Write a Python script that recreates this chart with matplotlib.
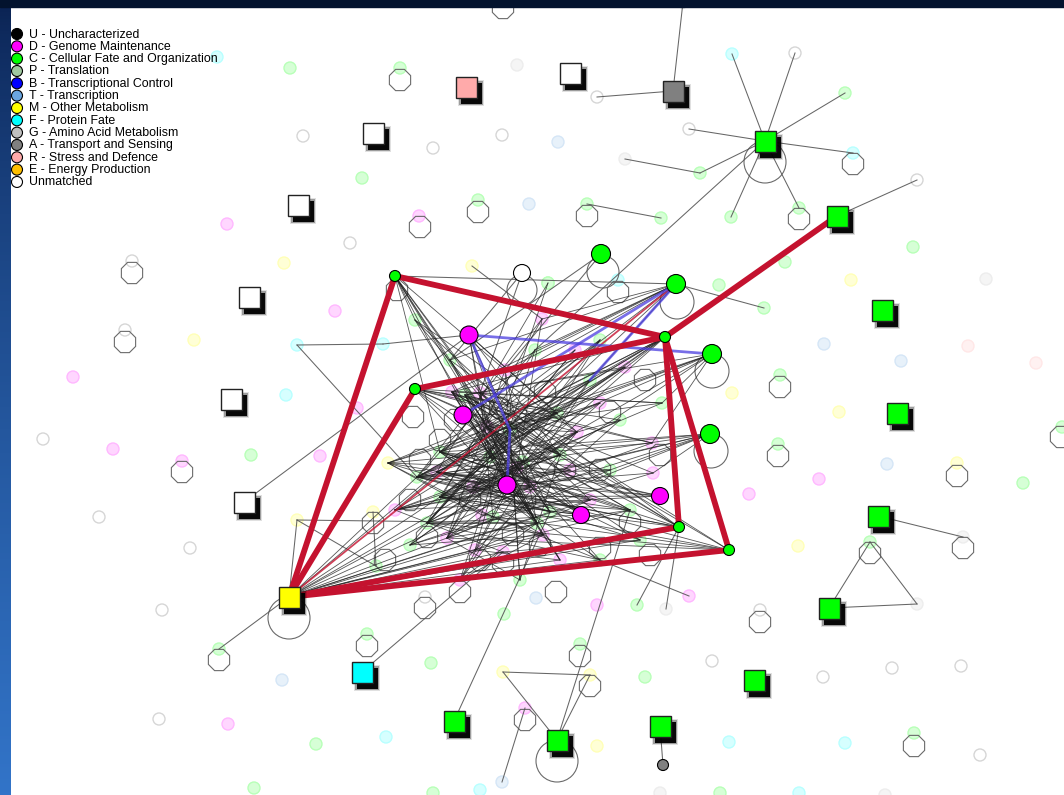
import numpy as np
import matplotlib
matplotlib.use("Agg")
import matplotlib.pyplot as plt
from matplotlib.patches import Circle, Rectangle, RegularPolygon
from matplotlib.colors import to_rgb

plt.rcParams['font.family'] = ['Liberation Sans', 'DejaVu Sans']

# functional categories
cat_codes = ["U", "D", "C", "P", "B", "T", "M", "F", "G", "A", "R", "E", "N"]
cat_labels = ["U - Uncharacterized", "D - Genome Maintenance", "C - Cellular Fate and Organization",
              "P - Translation", "B - Transcriptional Control", "T - Transcription",
              "M - Other Metabolism", "F - Protein Fate", "G - Amino Acid Metabolism",
              "A - Transport and Sensing", "R - Stress and Defence", "E - Energy Production",
              "Unmatched"]
cat_hex = ["#000000", "#ff00ff", "#00ff00", "#a0c8a0", "#0000ff", "#6aa5e0",
           "#ffff00", "#00ffff", "#c0c0c0", "#808080", "#ffaaaa", "#ffc000", "#ffffff"]
cat_color = dict(zip(cat_codes, cat_hex))

# square (matched) nodes
sq_ids = ["sR", "sW1", "sA", "sW2", "sW3", "sW4", "sW5", "sW6", "sH", "sC1",
          "sC2", "sC3", "sC4", "sC5", "sC6", "sM", "sF", "sC7", "sC8", "sC9"]
sq_x = [466, 570, 673, 373, 298, 249, 231, 244, 765, 837, 882, 897, 878, 829, 754, 289, 362, 454, 557, 660]
sq_y = [87, 73, 91, 133, 205, 297, 399, 502, 141, 216, 310, 413, 516, 608, 680, 597, 672, 721, 740, 726]
sq_cat = ["R", "N", "A", "N", "N", "N", "N", "N", "C", "C", "C", "C", "C", "C", "C", "M", "F", "C", "C", "C"]

# large circle nodes
big_ids = ["gA", "gB", "gC", "gD", "gs1", "gs2", "gs3", "gs4", "gs5",
           "mA", "mB", "mC", "mD", "mE", "wU", "aS"]
big_x = [601, 676, 712, 710, 395, 665, 415, 679, 729, 469, 463, 507, 581, 660, 522, 663]
big_y = [254, 284, 354, 434, 276, 337, 389, 527, 550, 335, 415, 485, 515, 496, 273, 765]
big_r = [9.5, 9.5, 9.5, 9.5, 5.5, 5.5, 5.5, 5.5, 5.5, 9, 9, 9, 8.5, 8.5, 8.5, 5.5]
big_cat = ["C", "C", "C", "C", "C", "C", "C", "C", "C", "D", "D", "D", "D", "D", "N", "A"]

# faint nodes in the dense core
core_x = [452, 465, 480, 487, 510, 557, 577, 440, 437, 417, 490, 523, 517, 530, 560, 550, 440, 427,
          473, 482, 493, 447, 475, 503, 537, 543, 388, 600, 625, 662, 652, 653, 542, 548, 415, 600,
          590, 620, 610, 590, 630, 640, 560, 600, 520, 460, 410, 395, 570, 505, 535, 575, 450]
core_y = [392, 395, 393, 427, 430, 413, 432, 452, 472, 477, 457, 462, 468, 487, 455, 512, 497, 523,
          487, 515, 517, 538, 550, 552, 523, 535, 463, 403, 367, 403, 443, 473, 319, 283, 320, 340,
          380, 420, 470, 500, 510, 540, 560, 560, 580, 580, 545, 510, 470, 370, 350, 350, 360]
core_cat = ["D", "C", "D", "D", "C", "C", "D", "C", "D", "C", "C", "C", "D", "D", "C", "C", "C", "C",
            "D", "D", "C", "D", "D", "D", "C", "D", "M", "D", "D", "C", "D", "D", "D", "C", "C", "C",
            "C", "C", "C", "D", "C", "C", "D", "C", "C", "D", "C", "D", "D", "D", "C", "D", "C"]

# faint nodes that carry an edge outside the core
link_ids = ["top", "w97", "h1", "h2", "h3", "h4", "h5", "h6", "h7", "h8", "g159", "w180", "c204",
            "c218", "c308", "g537", "c542", "g604", "m672", "m675", "d708", "t782", "c605", "g609",
            "d596", "c649", "m520", "m512", "c566", "f345", "f344", "m266"]
link_x = [683, 597, 732, 795, 845, 689, 853, 700, 731, 799, 625, 917, 587, 661, 764, 963, 870, 917,
          503, 590, 525, 502, 637, 666, 689, 219, 297, 373, 376, 297, 383, 472]
link_y = [2, 97, 54, 53, 93, 129, 153, 173, 217, 208, 159, 180, 204, 218, 308, 537, 542, 604,
          672, 675, 708, 782, 605, 609, 596, 649, 520, 512, 566, 345, 344, 266]
link_cat = ["N", "N", "F", "N", "C", "N", "F", "C", "C", "C", "G", "N", "C", "C", "C", "G", "C", "G",
            "M", "M", "D", "T", "C", "G", "D", "C", "M", "M", "C", "F", "F", "M"]

# isolated faint nodes
iso_x = [217, 290, 400, 517, 303, 433, 502, 558, 362, 419, 478, 529, 350, 227, 284, 132, 335, 125,
         194, 286, 73, 43, 113, 182, 251, 320, 357, 913, 851, 986, 785, 824, 968, 901, 1036, 780,
         732, 839, 778, 957, 887, 819, 1023, 749, 1062, 798, 823, 892, 961, 845, 914, 980, 799, 885,
         431, 536, 597, 504, 760, 712, 645, 597, 729, 433, 580, 162, 282, 159, 228, 254, 425, 367,
         99, 190, 548, 618, 719, 386, 316, 720, 660, 480]
iso_y = [57, 68, 68, 65, 136, 148, 135, 142, 178, 216, 200, 204, 243, 224, 263, 261, 311, 330,
         340, 395, 377, 439, 449, 461, 455, 456, 408, 247, 280, 279, 262, 344, 346, 361, 363, 375,
         393, 412, 444, 463, 464, 479, 483, 494, 427, 546, 677, 668, 666, 743, 733, 755, 793, 795,
         663, 598, 605, 614, 610, 661, 677, 746, 742, 793, 644, 610, 680, 719, 724, 788, 597, 634,
         517, 548, 283, 280, 285, 737, 744, 793, 793, 790]
iso_cat = ["F", "C", "C", "G", "N", "N", "N", "T", "C", "D", "C", "T", "N", "D", "M", "N", "D", "N",
           "M", "F", "D", "N", "D", "D", "C", "D", "D", "C", "M", "G", "C", "T", "R", "T", "R", "C",
           "M", "M", "C", "M", "T", "D", "C", "D", "C", "M", "N", "N", "N", "F", "C", "N", "F", "G",
           "C", "T", "D", "C", "N", "N", "C", "M", "F", "C", "C", "N", "T", "N", "D", "C", "N", "C",
           "N", "N", "C", "F", "C", "F", "C", "C", "G", "F"]

# octagonal self-loops (centres)
oct_x = [503, 400, 478, 420, 587, 132, 125, 182, 219, 367, 373, 425, 580, 590, 525, 556, 760, 853,
         799, 780, 778, 957, 963, 870, 914, 1061, 397, 618,
         413, 420, 410, 427, 480, 503, 513, 455, 600, 630, 540, 600, 650, 460, 385, 610, 565, 470,
         525, 440, 480, 660, 500, 545, 645]
oct_y = [8, 80, 212, 227, 216, 273, 342, 472, 660, 646, 523, 608, 656, 686, 720, 592, 622, 164,
         219, 387, 456, 476, 548, 553, 746, 437, 290, 292,
         417, 460, 500, 537, 560, 563, 535, 420, 470, 522, 545, 548, 555, 592, 560, 412, 470, 500,
         500, 440, 450, 455, 408, 392, 380]

# round self-loops of the larger nodes
loop_x = [765, 289, 557, 603, 677, 712, 711, 522]
loop_y = [162, 618, 761, 272, 302, 371, 451, 290]
loop_r = [21, 21, 21, 16, 17, 17, 17, 15]

# strong (red) and blue interactions
red_edges = [("sM", "gs1"), ("gs1", "gs2"), ("sM", "gs3"), ("gs3", "gs2"), ("gs2", "sC1"),
             ("gs2", "gs4"), ("gs2", "gs5"), ("sM", "gs4"), ("sM", "gs5")]
red_thin = [("sM", "gB")]
blue_edges = [("mA", "gC"), ("mA", "c4"), ("c4", "mC"), ("mB", "gB"), ("gB", "c36")]

# outer thin edges
outer_edges = [("sA", "top"), ("sA", "w97"), ("sH", "h1"), ("sH", "h2"), ("sH", "h3"), ("sH", "h4"),
               ("sH", "h5"), ("sH", "h6"), ("sH", "h7"), ("sH", "h8"), ("sH", "c50"), ("h6", "g159"),
               ("sC1", "w180"), ("c204", "c218"), ("gB", "c308"), ("sC4", "g537"), ("c542", "sC5"),
               ("c542", "g604"), ("sC5", "g604"), ("sC9", "aS"), ("sC8", "m672"), ("sC8", "m675"),
               ("m672", "m675"), ("sC8", "c40"), ("sC7", "c15"), ("d708", "t782"), ("c605", "gs4"),
               ("g609", "gs4"), ("d596", "c43"), ("sF", "c23"), ("c649", "sM"), ("m520", "c24"),
               ("m520", "c566"), ("m520", "sM"), ("m512", "c566"), ("f345", "f344"), ("f344", "mA"),
               ("f345", "c9"), ("sW6", "mA"), ("m266", "c32"), ("wU", "c2"), ("wU", "c52"),
               ("gA", "c52"), ("gA", "c49"), ("gs1", "gB")]

# edges of the large nodes into the core (core node indices)
hub_links = {
    "gs1": [2, 3, 10, 4, 52, 34, 7, 49, 12],
    "gs3": [4, 11, 13, 14, 24, 5, 6, 29, 37, 30],
    "gs2": [0, 3, 7, 8, 16, 18, 49, 4, 10, 12, 9],
    "gB": [52, 0, 2, 49, 50, 32, 3, 10, 36],
    "gC": [7, 8, 29, 30, 4, 11, 14, 26, 1],
    "gD": [9, 16, 17, 7, 38, 31, 21, 47, 26],
    "gs4": [0, 1, 7, 9, 16, 3, 18, 52],
    "gs5": [1, 2, 8, 16, 21, 17, 19],
    "mA": [3, 10, 12, 6, 14, 5, 15],
    "mB": [5, 14, 11, 24, 13, 40],
    "mC": [0, 1, 2, 7, 9, 27, 36, 6, 35],
    "mD": [8, 9, 16, 17, 3, 10, 12, 34],
    "mE": [7, 8, 9, 16, 10, 47],
    "sM": [9, 8, 16, 17, 21, 22, 23, 24, 25, 15, 42, 43, 40, 41, 39, 11, 13, 45],
}

# edges inside the core
core_edges = [(0, 11), (0, 14), (0, 24), (0, 13), (1, 12), (1, 15), (1, 25), (2, 14), (2, 20), (2, 5),
              (3, 24), (3, 15), (3, 6), (4, 21), (4, 17), (4, 9), (4, 22), (5, 8), (5, 16), (5, 9),
              (6, 17), (6, 18), (6, 21), (7, 11), (7, 24), (7, 40), (8, 13), (8, 25), (8, 39), (9, 12),
              (9, 14), (9, 38), (10, 21), (10, 42), (10, 17), (11, 17), (11, 46), (12, 22), (12, 46),
              (13, 21), (13, 47), (14, 16), (14, 18), (14, 47), (15, 26), (15, 9), (16, 25), (16, 40),
              (17, 24), (17, 43), (18, 40), (18, 41), (19, 26), (19, 39), (20, 43), (20, 26), (21, 40),
              (21, 44), (22, 42), (22, 39), (23, 41), (23, 47), (24, 45), (25, 45), (26, 36), (26, 5),
              (26, 13), (27, 7), (27, 9), (27, 16), (28, 8), (28, 1), (28, 10), (29, 0), (29, 3),
              (29, 16), (30, 1), (30, 10), (30, 17), (31, 0), (31, 18), (31, 46), (32, 9), (32, 12),
              (32, 17), (33, 8), (33, 10), (34, 14), (34, 24), (34, 6), (35, 7), (35, 21), (35, 47),
              (36, 16), (36, 45), (37, 9), (37, 18), (37, 22), (38, 10), (38, 21), (38, 47), (39, 2),
              (39, 7), (40, 3), (40, 12), (41, 11), (41, 13), (42, 0), (42, 3), (43, 12), (43, 7),
              (44, 4), (44, 14), (45, 11), (45, 6), (46, 20), (46, 25), (47, 11), (47, 48), (48, 16),
              (48, 26), (49, 21), (49, 24), (50, 16), (50, 9), (51, 17), (51, 7), (52, 24), (52, 13),
              (52, 15), (49, 44), (50, 45), (51, 46), (35, 17), (36, 9), (28, 47)]


def mix(c, a):
    r = np.array(to_rgb(c))
    return tuple(1 - a * (1 - r))


pos = {}
for i, n in enumerate(sq_ids):
    pos[n] = (sq_x[i], sq_y[i])
for i, n in enumerate(big_ids):
    pos[n] = (big_x[i], big_y[i])
for i in range(len(core_x)):
    pos["c%d" % i] = (core_x[i], core_y[i])
for i, n in enumerate(link_ids):
    pos[n] = (link_x[i], link_y[i])

fig = plt.figure(figsize=(10.64, 7.95), dpi=100)
ax = fig.add_axes([0, 0, 1, 1])
ax.set_xlim(0, 1064)
ax.set_ylim(795, 0)
ax.axis('off')
ax.add_patch(Rectangle((0, 0), 1064, 795, color="white", zorder=0))


def faint(x, y, cat):
    if cat == "N":
        fc, ec = "#ffffff", "#d6d6d6"
    else:
        fc, ec = mix(cat_color[cat], 0.16), mix(cat_color[cat], 0.28)
    ax.add_patch(Circle((x, y), 6, facecolor=fc, edgecolor=ec, lw=1.0, zorder=1))


for x, y, c in zip(iso_x, iso_y, iso_cat):
    faint(x, y, c)
for x, y, c in zip(core_x, core_y, core_cat):
    faint(x, y, c)
for x, y, c in zip(link_x, link_y, link_cat):
    faint(x, y, c)

for x, y in zip(oct_x, oct_y):
    ax.add_patch(RegularPolygon((x, y), 8, radius=11.5, orientation=np.pi / 8,
                                fill=False, ec="#6a6a6a", lw=0.8, zorder=2))
for x, y, r in zip(loop_x, loop_y, loop_r):
    ax.add_patch(Circle((x, y), r, fill=False, ec="#6a6a6a", lw=0.8, zorder=2))


def edge(a, b, **kw):
    (x1, y1), (x2, y2) = pos[a], pos[b]
    ax.plot([x1, x2], [y1, y2], **kw)


for a, b in outer_edges:
    edge(a, b, color="#555555", lw=0.75, alpha=0.9, zorder=3)
for h, targets in hub_links.items():
    for t in targets:
        edge(h, "c%d" % t, color="#1e1e1e", lw=0.6, alpha=0.75, zorder=3)
for i, j in core_edges:
    edge("c%d" % i, "c%d" % j, color="#1e1e1e", lw=0.6, alpha=0.75, zorder=3)

for a, b in red_thin:
    edge(a, b, color="#c4122f", lw=1.3, alpha=0.8, zorder=4)
for a, b in blue_edges:
    edge(a, b, color="#4b3ee0", lw=2.0, alpha=0.75, zorder=4, solid_capstyle="round")
for a, b in red_edges:
    edge(a, b, color="#c4122f", lw=4.2, zorder=5, solid_capstyle="round")

for x, y, r, c in zip(big_x, big_y, big_r, big_cat):
    ax.add_patch(Circle((x, y), r, facecolor=cat_color[c], edgecolor="black", lw=0.8, zorder=6))

half = 10.5
for x, y, c in zip(sq_x, sq_y, sq_cat):
    for grow, al in [(2.5, 0.12), (1.2, 0.3), (0.0, 0.95)]:
        ax.add_patch(Rectangle((x - half + 5 - grow, y - half + 6 - grow), 2 * half + 2 * grow,
                               2 * half + 2 * grow, facecolor="black", edgecolor="none",
                               alpha=al, zorder=6))
    ax.add_patch(Rectangle((x - half, y - half), 2 * half, 2 * half, facecolor=cat_color[c],
                           edgecolor="#222222", lw=1.0, zorder=7))

# legend
for i, (c, lab) in enumerate(zip(cat_codes, cat_labels)):
    ly = 34 + i * 12.33
    ax.add_patch(Circle((17, ly), 5.5, facecolor=cat_color[c], edgecolor="black", lw=0.8, zorder=8))
    ax.text(29, ly + 0.5, lab, fontsize=8.9, va="center", ha="left", color="black", zorder=8)

# slide frame: dark top band and blue left strip
grad = np.linspace(0, 1, 256).reshape(-1, 1)
strip = np.zeros((256, 1, 3))
top_c = np.array(to_rgb("#0a2150"))
bot_c = np.array(to_rgb("#3274c8"))
for k in range(3):
    strip[:, 0, k] = top_c[k] + (bot_c[k] - top_c[k]) * grad[:, 0] ** 0.7
ax.imshow(strip, extent=(0, 11, 795, 0), aspect="auto", zorder=9)
ax.add_patch(Rectangle((0, 0), 1064, 7, color="#03132e", zorder=10))
ax.set_xlim(0, 1064)
ax.set_ylim(795, 0)

fig.savefig("out.png", dpi=100)
